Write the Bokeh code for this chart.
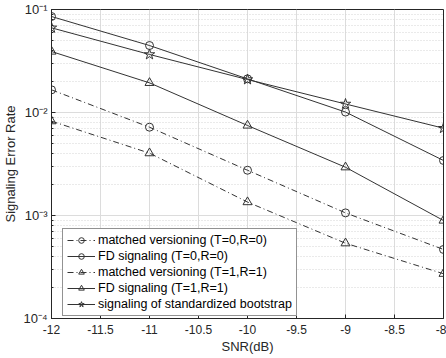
from bokeh.plotting import figure
from bokeh.models import FixedTicker, CustomJSTickFormatter, Legend, LegendItem, LogTicker
from bokeh.embed import file_html
from bokeh.resources import INLINE

snr = [-12, -11, -10, -9, -8]
mv_00 = [0.0166, 0.0072, 0.00275, 0.00106, 0.000468]
fd_00 = [0.0855, 0.0447, 0.0212, 0.0101, 0.00342]
mv_11 = [0.00824, 0.00403, 0.00135, 0.000538, 0.000272]
fd_11 = [0.0391, 0.0194, 0.00748, 0.00294, 0.000894]
bootstrap = [0.0664, 0.0366, 0.0209, 0.0121, 0.00704]

x_ticks = [-12, -11.5, -11, -10.5, -10, -9.5, -9, -8.5, -8]
labels = ["matched versioning (T=0,R=0)", "FD signaling (T=0,R=0)",
          "matched versioning (T=1,R=1)", "FD signaling (T=1,R=1)",
          "signaling of standardized bootstrap"]

FONT = "Liberation Sans"
INK = "#262626"

p = figure(width=446, height=358, output_backend="svg", toolbar_location=None,
           x_range=(-12, -8), y_range=(1e-4, 1e-1), y_axis_type="log",
           min_border_left=51, min_border_right=3, min_border_top=9, min_border_bottom=40)
p.background_fill_color = "white"
p.border_fill_color = "white"
p.outline_line_color = INK
p.outline_line_width = 1

p.xaxis.ticker = FixedTicker(ticks=x_ticks, minor_ticks=[])
p.xaxis.formatter = CustomJSTickFormatter(code="return String(tick);")
p.yaxis.ticker = LogTicker(num_minor_ticks=10)
p.yaxis.formatter = CustomJSTickFormatter(code="""
const sup = {'-':'\u207b','0':'\u2070','1':'\u00b9','2':'\u00b2','3':'\u00b3','4':'\u2074','5':'\u2075'};
const e = Math.round(Math.log10(tick));
return '10' + String(e).split('').map(c => sup[c]).join('');
""")

for ax in (p.xaxis[0], p.yaxis[0]):
    ax.axis_line_color = INK
    ax.major_tick_line_color = INK
    ax.minor_tick_line_color = INK
    ax.major_tick_in = 4
    ax.major_tick_out = 0
    ax.minor_tick_in = 2
    ax.minor_tick_out = 0
    ax.major_label_text_font = FONT
    ax.major_label_text_font_size = "12px"
    ax.major_label_text_color = INK
    ax.axis_label_text_font = FONT
    ax.axis_label_text_font_size = "13px"
    ax.axis_label_text_font_style = "normal"
    ax.axis_label_text_color = INK
    ax.major_label_standoff = 4
    ax.axis_label_standoff = 2

p.xaxis.major_label_standoff = 6
p.yaxis.major_label_text_font_size = "13px"
p.xaxis.axis_label = "SNR(dB)"
p.yaxis.axis_label = "Signaling Error Rate"

p.xgrid.grid_line_color = "#dcdcdc"
p.ygrid.grid_line_color = "#dcdcdc"
p.ygrid.minor_grid_line_color = "#d4d4d4"
p.ygrid.minor_grid_line_dash = "1 2"

LC = "#333333"
series = [
    (mv_00, "circle", "6 3 1 3", 8),
    (fd_00, "circle", "solid", 8),
    (mv_11, "triangle", "6 3 1 3", 9),
    (fd_11, "triangle", "solid", 9),
    (bootstrap, "star", "solid", 11),
]
items = []
for (ys, marker, dash, size), lab in zip(series, labels):
    l = p.line(snr, ys, line_color=LC, line_width=1, line_dash=dash)
    s = p.scatter(snr, ys, marker=marker, size=size, line_color=LC, fill_color=None, line_width=1)
    items.append(LegendItem(label=lab, renderers=[l, s]))

legend = Legend(items=items, location=(11, 2), label_text_font=FONT, label_text_font_size="12.5px",
                label_text_color="black", label_height=14, glyph_height=14, glyph_width=28,
                label_standoff=3, spacing=2, padding=4, margin=0,
                border_line_color=INK, border_line_width=1, background_fill_alpha=1)
p.add_layout(legend, "center")

open("out.html", "w").write(file_html(p, INLINE))
